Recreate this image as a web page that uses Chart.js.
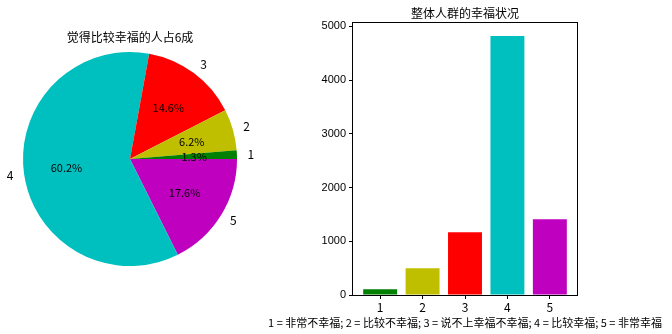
<!DOCTYPE html>
<html>
<head>
<meta charset="utf-8">
<script src="https://cdn.jsdelivr.net/npm/chart.js@4"></script>
<style>
    html, body { margin: 0; padding: 0; background: #fff; }
    #wrap { position: relative; width: 672px; height: 334px; }
    #wrap canvas { position: absolute; left: 0; top: 0; }
</style>
</head>
<body>
<div id="wrap">
    <canvas id="barChart" width="672" height="334"></canvas>
    <canvas id="pieChart" width="300" height="334"></canvas>
</div>
<script>
// Data
const categories = ['1', '2', '3', '4', '5'];
const counts = [105, 497, 1168, 4818, 1410];
const colors = ['#008000', '#bfbf00', '#ff0000', '#00bfbf', '#bf00bf'];
const yTicks = [0, 1000, 2000, 3000, 4000, 5000];
const pieTitle = '觉得比较幸福的人占6成';
const barTitle = '整体人群的幸福状况';
const xLabel = '1 = 非常不幸福; 2 = 比较不幸福; 3 = 说不上幸福不幸福; 4 = 比较幸福; 5 = 非常幸福';

const cjk = '"Noto Sans CJK SC", sans-serif';

/**
 * Ritar etiketter och procent på tårtdiagrammet, plus titeln.
 */
const pieLabels = {
    id: 'pieLabels',
    afterDraw(chart) {
        const ctx = chart.ctx;
        const meta = chart.getDatasetMeta(0);
        const vals = chart.data.datasets[0].data;
        const total = vals.reduce((a, b) => a + b, 0);
        ctx.save();
        ctx.fillStyle = '#000';
        ctx.textBaseline = 'middle';
        meta.data.forEach((arc, i) => {
            const p = arc.getProps(['x', 'y', 'startAngle', 'endAngle', 'outerRadius'], true);
            const mid = (p.startAngle + p.endAngle) / 2;
            const cx = Math.cos(mid), cy = Math.sin(mid);
            ctx.font = '12px ' + cjk;
            ctx.textAlign = cx > 0 ? 'left' : 'right';
            ctx.fillText(chart.data.labels[i], p.x + cx * p.outerRadius * 1.1, p.y + cy * p.outerRadius * 1.1);
            ctx.font = '11px ' + cjk;
            ctx.textAlign = 'center';
            ctx.fillText((vals[i] / total * 100).toFixed(1) + '%', p.x + cx * p.outerRadius * 0.6, p.y + cy * p.outerRadius * 0.6);
        });
        const area = chart.chartArea;
        ctx.font = '12px ' + cjk;
        ctx.textAlign = 'center';
        ctx.fillText(pieTitle, (area.left + area.right) / 2, area.top - 15);
        ctx.restore();
    }
};

// matplotlib ritar motsols från öster, Chart.js medsols -> vänd ordningen
new Chart(document.getElementById('pieChart'), {
    type: 'pie',
    data: {
        labels: categories.slice().reverse(),
        datasets: [{
            data: counts.slice().reverse(),
            backgroundColor: colors.slice().reverse(),
            borderWidth: 0
        }]
    },
    options: {
        responsive: false,
        animation: false,
        rotation: 90,
        layout: { padding: { left: 23, right: 63, top: 52, bottom: 68 } },
        plugins: { legend: { display: false }, tooltip: { enabled: false } }
    },
    plugins: [pieLabels]
});

/**
 * Ram runt ritytan, titel och förklaringstext för stapeldiagrammet.
 */
const frameAndTitle = {
    id: 'frameAndTitle',
    afterDatasetsDraw(chart) {
        const ctx = chart.ctx;
        const a = chart.chartArea;
        const midX = (a.left + a.right) / 2;
        ctx.save();
        ctx.strokeStyle = '#000';
        ctx.lineWidth = 1;
        ctx.strokeRect(Math.round(a.left) - 0.5, Math.round(a.top) - 0.5,
            Math.round(a.right - a.left) + 1, Math.round(a.bottom - a.top) + 1);
        ctx.fillStyle = '#000';
        ctx.font = '12px ' + cjk;
        ctx.textAlign = 'center';
        ctx.textBaseline = 'middle';
        ctx.fillText(barTitle, midX, a.top - 10);
        ctx.font = '11px ' + cjk;
        ctx.fillText(xLabel, midX, a.bottom + 28);
        ctx.restore();
    }
};

new Chart(document.getElementById('barChart'), {
    type: 'bar',
    data: {
        datasets: [{
            data: categories.map((c, i) => ({ x: Number(c), y: counts[i] })),
            backgroundColor: colors,
            borderWidth: 0,
            barPercentage: 0.8,
            categoryPercentage: 1
        }]
    },
    options: {
        responsive: false,
        animation: false,
        layout: { padding: { top: 23, right: 95, left: 300, bottom: 0 } },
        scales: {
            x: {
                type: 'linear',
                offset: false,
                min: 0.36,
                max: 5.64,
                afterBuildTicks: s => { s.ticks = categories.map(c => ({ value: Number(c) })); },
                afterFit: s => { s.height = 39; },
                ticks: { color: '#000', font: { family: cjk, size: 12 }, padding: 1, maxRotation: 0 },
                grid: { drawOnChartArea: false, offset: false, tickLength: 4, color: '#000' },
                border: { display: false }
            },
            y: {
                min: 0,
                max: 5061,
                afterBuildTicks: s => { s.ticks = yTicks.map(v => ({ value: v })); },
                afterFit: s => { s.width = 53; },
                ticks: { color: '#000', font: { family: '"Liberation Sans", sans-serif', size: 11 }, padding: 3, callback: v => String(v) },
                grid: { drawOnChartArea: false, tickLength: 4, color: '#000' },
                border: { display: false }
            }
        },
        plugins: { legend: { display: false }, tooltip: { enabled: false } }
    },
    plugins: [frameAndTitle]
});
</script>
</body>
</html>
